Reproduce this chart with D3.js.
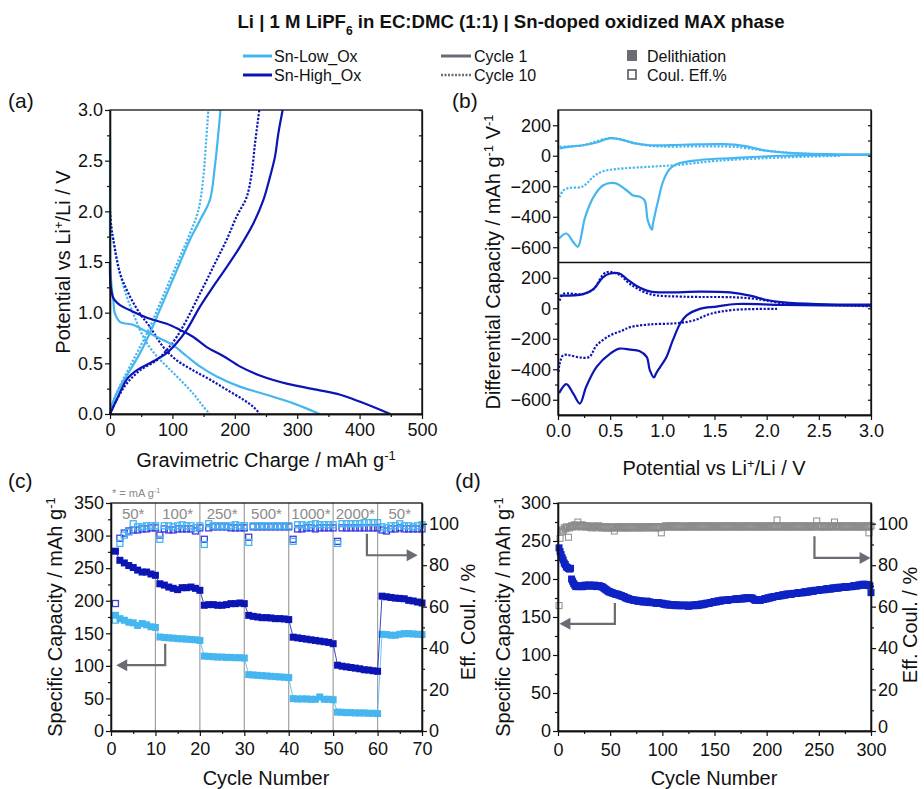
<!DOCTYPE html>
<html><head><meta charset="utf-8">
<script src="https://cdn.jsdelivr.net/npm/d3@7"></script>
<style>body{margin:0;background:#fff}svg{display:block}text{font-family:"Liberation Sans",Arial,Helvetica,sans-serif}</style>
</head><body>
<script>
// ---------------- DATA ----------------
// (a) voltage profiles: [gravimetric charge mAh/g, potential V]
const aLowC1Dis = [[0,2.72],[0,2.2],[0,1.7],[0.5,1.45],[2,1.3],[5.3,1.12],[8,0.99],[16,0.91],[37,0.88],[53,0.83],[75,0.76],[101,0.68],[123,0.57],[144,0.47],[171,0.37],[208,0.27],[251,0.19],[294,0.105],[336,0]];
const aLowC1Chg = [[0,0],[5,0.12],[16,0.27],[32,0.43],[48,0.6],[64,0.8],[80,1.03],[96,1.26],[112,1.49],[128,1.72],[144,1.91],[160,2.11],[168,2.44],[173.6,2.77],[177,3.0]];
const aLowC10Dis = [[0,2.0],[2,1.85],[5.3,1.72],[16,1.39],[26.7,1.16],[37.4,0.99],[48,0.83],[59,0.7],[75,0.57],[91,0.47],[112,0.34],[133.5,0.2],[150,0.07],[160,0]];
const aLowC10Chg = [[0,0],[5,0.12],[16,0.28],[32,0.47],[48,0.66],[64,0.86],[80,1.09],[96,1.32],[112,1.55],[128,1.78],[141.6,2.01],[149.6,2.34],[153.8,2.67],[157.6,3.0]];
const aHighC1Dis = [[0,1.5],[0.5,1.3],[2.7,1.2],[5,1.15],[8,1.12],[16,1.075],[37,1.01],[64,0.94],[91,0.89],[112,0.83],[133.5,0.76],[155,0.66],[182,0.57],[208,0.47],[240,0.38],[283,0.30],[331,0.24],[369,0.19],[401,0.12],[449,0]];
const aHighC1Chg = [[0,0],[10.7,0.14],[26.7,0.34],[42.7,0.43],[69.4,0.52],[90.8,0.6],[106.8,0.7],[122.9,0.83],[144.2,1.06],[165.6,1.26],[187,1.45],[208.3,1.65],[229.7,1.88],[245.7,2.11],[256.4,2.34],[264.4,2.54],[269.8,2.77],[276.7,3.0]];
const aHighC10Dis = [[0,2.0],[2,1.85],[5.3,1.72],[16,1.39],[32,1.16],[48,0.99],[64,0.86],[85.5,0.66],[107,0.53],[133.5,0.43],[160,0.34],[187,0.24],[214,0.14],[230,0.07],[240,0]];
const aHighC10Chg = [[0,0],[10.7,0.14],[26.7,0.30],[48,0.43],[74.8,0.53],[90.8,0.63],[106.8,0.76],[122.9,0.93],[138.9,1.125],[154.9,1.32],[170.9,1.52],[187,1.72],[203,1.95],[219,2.14],[227,2.375],[232.4,2.67],[239.3,3.0]];

// (b) differential capacity: [potential V, dQ/dV]
const bLowC1Pos = [[0.016,48],[0.1,58],[0.24,69],[0.37,87],[0.5,115],[0.59,109],[0.72,83],[0.88,69],[1.2,72],[1.585,76],[1.78,65],[2.0,33],[2.32,15],[3.0,7]];
const bLowC1Neg = [[3.0,7],[2.16,0],[1.68,-15],[1.36,-28],[1.14,-54],[1.07,-87],[1.01,-163],[0.96,-293],[0.91,-445],[0.9,-484],[0.86,-423],[0.83,-293],[0.78,-267],[0.72,-261],[0.66,-228],[0.545,-180],[0.43,-195],[0.34,-271],[0.26,-402],[0.19,-597],[0.145,-565],[0.08,-510],[0.01,-543]];
const bLowC10Pos = [[0.016,59],[0.1,62],[0.24,69],[0.5,115],[0.72,87],[0.88,65],[1.36,61],[1.68,59],[2.0,33],[2.32,15],[2.7,4]];
const bLowC10Neg = [[2.7,0],[2.16,-11],[1.52,-33],[1.14,-61],[0.88,-72],[0.56,-87],[0.43,-102],[0.34,-137],[0.27,-185],[0.22,-206],[0.11,-211],[0.05,-228],[0.016,-271]];
const bHighC1Pos = [[0.016,83],[0.24,93],[0.34,126],[0.43,202],[0.5,228],[0.59,228],[0.66,191],[0.75,148],[0.88,111],[1.04,104],[1.36,109],[1.65,104],[1.84,83],[2.0,54],[2.16,39],[2.48,28],[3.0,24]];
const bHighC1Neg = [[3.0,17],[2.16,22],[1.71,28],[1.52,11],[1.36,-4],[1.23,-48],[1.17,-102],[1.1,-211],[1.04,-319],[0.98,-384],[0.94,-428],[0.92,-454],[0.88,-406],[0.85,-319],[0.78,-280],[0.69,-271],[0.59,-265],[0.5,-297],[0.37,-384],[0.27,-515],[0.21,-625],[0.145,-558],[0.08,-497],[0.01,-558]];
const bHighC10Pos = [[0.016,50],[0.05,93],[0.24,93],[0.34,126],[0.46,235],[0.59,219],[0.69,159],[0.88,93],[1.2,76],[1.68,72],[1.9,61],[2.16,33],[2.48,24],[3.0,13]];
const bHighC10Neg = [[2.1,-4],[1.68,-11],[1.46,-37],[1.3,-80],[1.14,-98],[0.88,-106],[0.69,-124],[0.62,-145],[0.5,-178],[0.37,-243],[0.3,-319],[0.21,-323],[0.11,-308],[0.05,-308],[0.016,-363],[0.004,-428]];

// (c) rate capability, cycles 1..70
const cRateLabels = ["50*","100*","250*","500*","1000*","2000*","50*"];
const cLowCap = [177.6,172.5,170,167,166,162,165,163,160,159,
 144.3,143.5,143,142.5,141.8,141.5,141,140.5,140,139,
 115,114.5,114,113.5,113.5,113,113,112.5,112.5,112,
 86.5,86,85.5,85,84.5,84,83.5,83,82.5,82,
 49.7,49.2,49.2,49.2,48.7,48.7,52.2,48.7,48.7,48,
 29,28.7,28.2,28.2,27.7,27.7,27.7,27.2,27.2,26.7,
 148.5,148,147,147,148.5,149.4,149.4,149,148.5,148];
const cHighCap = [276,262,258,254,251,247,244,244,241,239,
 226,224,221,219,217,220,220,221,219,216,
 193,194,194,193,193,194,195.5,195.5,196.5,195.5,
 177.5,176,175,174,174,173.5,172.5,172.5,172,171,
 144,143,142,141,140,139,138,137,136,134,
 101,99.5,98.5,97.5,96.5,95.5,94,93.5,92.5,91.6,
 207,206,205,204,203.5,203,200.6,199.6,198,196.5];
const cLowCE = [53.5,90.5,94.5,96,100,98.5,98.5,99,99,99,
 92.5,99,99,98.5,99,99.5,99,99,98,99,
 90,100,99,99,99,99,99,99.5,99,99,
 91,99,99,99,99,99,99,99,99,99,
 91.5,99.5,99.5,99,99.5,100,99.5,99.5,99.5,99.5,
 90.5,100,100,100,100,100,100.5,100.5,100.5,100.5,
 98.5,98,99,99,100,99,99,98.5,99,99.5];
const cHighCE = [61.5,93,95.5,96.5,97,97,97.5,97.5,98,98,
 94.5,97.5,97,97,97.5,97.5,97.5,97.5,96.5,98,
 92.5,98,98.5,98.5,98.5,98.5,98,98,98,98,
 93.5,98.5,98.5,98.5,98.5,98.5,98.5,98.5,98.5,98.5,
 92.5,97.5,97.5,98,98,97.5,98,98,98,98,
 91.5,98,98,98,98,98,98,98,98,98,
 97,96.5,97.5,97.5,98,97.5,97.5,97.5,97.5,97.5];

// (d) long-term cycling, cycles 1..300 (Sn-High_Ox)
const dCap = [241,236,232,228,225,221,219,216,215,214,
 213,214,200,197,194,192,190,191,190,191,
 190,191,190,190,191,192,191,191,192,191,
 192,191,191,191,192,191,190,191,191,191,
 190,190,189,188,187,186,185,184,183,183,
 182,182,181,181,180,180,180,179,179,178,
 178,177,177,176,175,175,174,174,173,173,
 173,172,172,172,172,171,171,171,171,171,
 170,170,170,170,171,170,169,170,169,169,
 169,169,169,168,168,169,168,168,168,168,
 167,167,167,166,167,166,166,166,166,166,
 166,165,166,165,165,166,165,165,165,165,
 165,166,165,165,164,165,165,165,166,165,
 165,166,166,165,166,166,167,166,167,167,
 167,168,168,168,168,169,169,169,170,170,
 170,170,171,171,171,171,172,172,172,172,
 172,172,172,173,173,173,173,173,173,174,
 173,174,174,174,174,174,174,175,174,175,
 175,175,175,175,175,175,174,173,172,172,
 172,172,172,172,173,173,173,174,174,174,
 175,175,175,176,176,176,177,177,177,177,
 178,178,178,178,179,179,179,179,180,180,
 180,180,180,180,181,181,181,181,181,182,
 182,182,182,182,182,183,183,183,183,183,
 184,184,184,184,184,185,185,185,185,185,
 186,186,186,186,186,186,187,187,187,187,
 187,187,188,188,188,188,188,189,188,189,
 189,189,189,189,190,189,190,190,190,190,
 190,190,191,191,191,191,191,192,192,192,
 192,193,193,192,193,192,192,192,191,182];
const dCE = [60.5,93,96,97,96.5,98,97.5,98.5,98,93.5,
 98,98.5,99,98.5,99,99.5,99,98.5,100.8,99,
 99,98.5,99.5,99,98.5,99,98.5,99,98.5,98.5,
 98.5,98,98.5,99,98.5,98.5,98,98.5,99,98.5,
 98.5,98,98.5,98,98.5,98,98.5,98,98.5,98,
 98,98.5,98,96.5,98,98.5,98,98.5,98,98.5,
 98.5,98,98.5,98,98,98.5,98,98.5,98,98.5,
 98,98.5,98.5,98,98.5,98,98.5,98,98.5,98,
 98.5,98.5,98,98.5,98.5,98,98.5,98.5,98,98.5,
 98.5,98,98.5,98,98.5,98.5,98,98.5,95.6,98.5,
 98.5,98.5,99,98.5,98.5,99,98.5,98.5,99,98.5,
 98.5,99,98.5,98.5,99,98.5,98.5,99,98.5,98.5,
 98.5,99,98.5,98.5,98.5,99,98.5,99,98.5,98.5,
 99,98.5,98.5,99,98.5,98.5,99,98.5,98.5,99,
 98.5,98.5,99,98.5,98.5,99,98.5,98.5,99,98.5,
 98.5,99,98.5,98.5,99,98.5,98.5,99,98.5,98.5,
 99,98.5,98.5,99,98.5,98.5,99,98.5,98.5,99,
 98.5,98.5,99,98.5,98.5,99,98.5,98.5,99,98.5,
 98.5,99,98.5,98.5,99,98.5,98.5,99,98.5,98.5,
 99,98.5,98.5,99,98.5,98.5,99,98.5,98.5,99,
 98.5,98.5,99,98.5,98.5,99,98.5,98.5,99,101.8,
 98.5,98.5,99,98.5,98.5,99,98.5,98.5,99,98.5,
 98.5,99,98.5,98.5,99,98.5,98.5,99,98.5,98.5,
 99,98.5,98.5,99,98.5,98.5,99,98.5,98.5,99,
 98.5,98.5,99,98.5,98.5,99,98.5,101.3,99,98.5,
 98.5,99,98.5,98.5,99,98.5,98.5,99,98.5,98.5,
 99,98.5,98.5,99,100.8,98.5,99,98.5,98.5,99,
 98.5,98.5,99,98.5,98.5,99,98.5,98.5,99,98.5,
 98.5,99,98.5,98.5,99,98.5,98.5,99,98.5,98.5,
 99,98.5,98.5,99,98.5,98.5,99,95.6,98.5,99];

// ---------------- STYLE ----------------
const LIGHT = "#45b6f0", DARK = "#0b14b4", CEDARK = "#3d3de0", GREY = "#6b6b73", CEGREY = "#8c8c8c", DMARK = "#0f22c4";
const TICKF = 18;

const svg = d3.select("body").append("svg").attr("width",924).attr("height",789);

function txt(x,y,s,opts={}){
  const t = svg.append("text").attr("x",x).attr("y",y).attr("font-size",opts.size||20)
    .attr("fill",opts.fill||"#111").attr("text-anchor",opts.anchor||"middle");
  if(s) t.text(s);
  if(opts.bold) t.attr("font-weight","bold");
  if(opts.rot) t.attr("transform",`rotate(${opts.rot},${x},${y})`);
  return t;
}
function addParts(t, parts){
  parts.forEach(p=>{
    const ts = t.append("tspan").text(p[0]);
    if(p[1]==='sup'){ ts.attr("font-size","65%").attr("baseline-shift","super"); }
    if(p[1]==='sub'){ ts.attr("font-size","65%").attr("baseline-shift","sub"); }
  });
  return t;
}

function axisGroup(axis, tx, ty){
  const g = svg.append("g").attr("transform",`translate(${tx},${ty})`).call(axis);
  g.selectAll("path.domain").attr("stroke","#111").attr("stroke-width",1.3);
  g.selectAll("line").attr("stroke","#111").attr("stroke-width",1.2);
  g.selectAll("text").attr("font-size",TICKF).attr("fill","#111").attr("font-family",'"Liberation Sans",Arial,sans-serif');
  return g;
}
function frame(x0,x1,y0,y1){
  svg.append("rect").attr("x",x0).attr("y",y0).attr("width",x1-x0).attr("height",y1-y0)
    .attr("fill","none").attr("stroke","#111").attr("stroke-width",1.3);
}
function arrow(pts, head){
  svg.append("path").attr("d",d3.line()(pts)).attr("fill","none").attr("stroke",GREY).attr("stroke-width",2.2);
  const a = pts[pts.length-1], b = pts[pts.length-2];
  const dx = a[0]-b[0], dy=a[1]-b[1], L=Math.hypot(dx,dy), ux=dx/L, uy=dy/L;
  const tip=[a[0]+ux*head, a[1]+uy*head];
  const bx=a[0]-ux*2, by=a[1]-uy*2;
  svg.append("path").attr("d",d3.line()([tip,[bx-uy*6,by+ux*6],[bx+uy*6,by-ux*6]])+"Z").attr("fill",GREY);
}

// ---------------- TITLE & LEGEND ----------------
addParts(txt(511,28,"",{size:18.6,bold:true}),[["Li | 1 M LiPF"],["6","sub"],[" in EC:DMC (1:1) | Sn-doped oxidized MAX phase"]]);
svg.append("line").attr("x1",243).attr("x2",272).attr("y1",56).attr("y2",56).attr("stroke",LIGHT).attr("stroke-width",3);
svg.append("line").attr("x1",243).attr("x2",272).attr("y1",75).attr("y2",75).attr("stroke",DARK).attr("stroke-width",3);
txt(274,62,"Sn-Low_Ox",{size:16,anchor:"start"});
txt(274,81,"Sn-High_Ox",{size:16,anchor:"start"});
svg.append("line").attr("x1",441).attr("x2",471).attr("y1",56).attr("y2",56).attr("stroke",GREY).attr("stroke-width",3);
svg.append("line").attr("x1",441).attr("x2",471).attr("y1",75).attr("y2",75).attr("stroke",GREY).attr("stroke-width",2.5).attr("stroke-dasharray","2,1.5");
txt(474,62,"Cycle 1",{size:16,anchor:"start"});
txt(474,81,"Cycle 10",{size:16,anchor:"start"});
svg.append("rect").attr("x",627).attr("y",50).attr("width",10).attr("height",11).attr("fill",GREY);
svg.append("rect").attr("x",628).attr("y",70).attr("width",8).attr("height",9).attr("fill","none").attr("stroke",GREY).attr("stroke-width",1.8);
txt(647,62,"Delithiation",{size:16,anchor:"start"});
txt(647,81,"Coul. Eff.%",{size:16,anchor:"start"});

// panel labels
txt(8,108,"(a)",{size:21,anchor:"start"});
txt(452,108,"(b)",{size:21,anchor:"start"});
txt(8,488,"(c)",{size:21,anchor:"start"});
txt(455,488,"(d)",{size:21,anchor:"start"});

// ---------------- PANEL (a) ----------------
{
  const x = d3.scaleLinear([0,500],[110,422]);
  const y = d3.scaleLinear([0,3],[414,110]);
  const line = d3.line().x(d=>x(d[0])).y(d=>y(d[1])).curve(d3.curveCatmullRom.alpha(0.5));
  const series = [
    [aLowC10Dis,LIGHT,true],[aLowC10Chg,LIGHT,true],[aHighC10Dis,DARK,true],[aHighC10Chg,DARK,true],
    [aLowC1Dis,LIGHT,false],[aLowC1Chg,LIGHT,false],[aHighC1Dis,DARK,false],[aHighC1Chg,DARK,false]];
  svg.append("g").selectAll("path").data(series).join("path")
    .attr("d",d=>line(d[0])).attr("fill","none").attr("stroke",d=>d[1]).attr("stroke-width",2.2)
    .attr("stroke-dasharray",d=>d[2]?"2.2,1.6":null);
  frame(110,422,110,414);
  axisGroup(d3.axisLeft(y).tickValues(d3.range(0,3.01,0.5)).tickFormat(d3.format(".1f")).tickSize(5).tickSizeOuter(0).tickPadding(2),110,0);
  axisGroup(d3.axisLeft(y).tickValues(d3.range(0.25,3,0.5)).tickFormat("").tickSize(3).tickSizeOuter(0),110,0);
  axisGroup(d3.axisBottom(x).tickValues(d3.range(0,501,100)).tickSize(5).tickSizeOuter(0).tickPadding(4),0,414);
  axisGroup(d3.axisBottom(x).tickValues(d3.range(50,500,100)).tickFormat("").tickSize(3).tickSizeOuter(0),0,414);
  axisGroup(d3.axisLeft(y).tickValues(d3.range(0,3.01,0.25)).tickFormat("").tickSize(3).tickSizeOuter(0),422,0);
  addParts(txt(70,262,"",{rot:-90}),[["Potential vs Li"],["+","sup"],["/Li / V"]]);
  addParts(txt(266,467,""),[["Gravimetric Charge / mAh g"],["-1","sup"]]);
}

// ---------------- PANEL (b) ----------------
{
  const x = d3.scaleLinear([0,3],[558,871]);
  const yU = d3.scaleLinear([-700,300],[262.5,110]);
  const yL = d3.scaleLinear([-700,300],[415,262.5]);
  const mk = ys => d3.line().x(d=>x(d[0])).y(d=>ys(d[1])).curve(d3.curveCatmullRom.alpha(0.5));
  const lu = mk(yU), ll = mk(yL);
  const series = [
    [bLowC10Pos,lu,LIGHT,true],[bLowC10Neg,lu,LIGHT,true],[bLowC1Pos,lu,LIGHT,false],[bLowC1Neg,lu,LIGHT,false],
    [bHighC10Pos,ll,DARK,true],[bHighC10Neg,ll,DARK,true],[bHighC1Pos,ll,DARK,false],[bHighC1Neg,ll,DARK,false]];
  svg.append("g").selectAll("path").data(series).join("path")
    .attr("d",d=>d[1](d[0])).attr("fill","none").attr("stroke",d=>d[2]).attr("stroke-width",2.2)
    .attr("stroke-dasharray",d=>d[3]?"2.2,1.6":null);
  frame(558,871,110,415);
  svg.append("line").attr("x1",558).attr("x2",871).attr("y1",262.5).attr("y2",262.5).attr("stroke","#111").attr("stroke-width",1.3);
  [yU,yL].forEach(ys=>{
    axisGroup(d3.axisLeft(ys).tickValues([-600,-400,-200,0,200]).tickSize(5).tickSizeOuter(0).tickPadding(2),558,0);
    axisGroup(d3.axisLeft(ys).tickValues([-500,-300,-100,100]).tickFormat("").tickSize(3).tickSizeOuter(0),558,0);
    axisGroup(d3.axisLeft(ys).tickValues(d3.range(-600,201,100)).tickFormat("").tickSize(3).tickSizeOuter(0),871,0);
  });
  axisGroup(d3.axisBottom(x).tickValues(d3.range(0,3.01,0.5)).tickFormat(d3.format(".1f")).tickSize(5).tickSizeOuter(0).tickPadding(4),0,415);
  axisGroup(d3.axisBottom(x).tickValues(d3.range(0.25,3,0.5)).tickFormat("").tickSize(3).tickSizeOuter(0),0,415);
  addParts(txt(500,262,"",{rot:-90}),[["Differential Capacity / mAh g"],["-1","sup"],[" V"],["-1","sup"]]);
  addParts(txt(714,475,""),[["Potential vs Li"],["+","sup"],["/Li / V"]]);
}

// ---------------- PANEL (c) ----------------
{
  const cyc = d3.range(1,71);
  const x = d3.scaleLinear([0,70],[111,422]);
  const yL = d3.scaleLinear([0,350],[731,503]);
  const yR = d3.scaleLinear([0,110],[731,503]);
  svg.append("g").selectAll("line").data(d3.range(10,61,10)).join("line")
    .attr("x1",d=>x(d)).attr("x2",d=>x(d)).attr("y1",503).attr("y2",731).attr("stroke","#a0a0a0").attr("stroke-width",1.2);
  svg.append("g").selectAll("text").data(cRateLabels).join("text")
    .attr("x",(d,i)=>x(i*10+5)).attr("y",yL(326)).attr("text-anchor","middle").attr("font-size",15).attr("fill","#8a8a8a").text(d=>d);
  addParts(txt(112,497,"",{size:11,anchor:"start",fill:"#8a8a8a"}),[["* = mA g"],["-1","sup"]]);
  const ln = ys => d3.line().x((d,i)=>x(cyc[i])).y(d=>ys(d));
  [[cLowCap,LIGHT],[cHighCap,DARK]].forEach(([arr,col])=>{
    svg.append("path").attr("d",ln(yL)(arr)).attr("fill","none").attr("stroke",col).attr("stroke-width",0.8);
    svg.append("g").selectAll("rect").data(arr).join("rect")
      .attr("x",(d,i)=>x(cyc[i])-3.5).attr("y",d=>yL(d)-3.5).attr("width",7).attr("height",7).attr("fill",col);
  });
  [[cHighCE,CEDARK],[cLowCE,LIGHT]].forEach(([arr,col])=>{
    svg.append("g").selectAll("rect").data(arr).join("rect")
      .attr("x",(d,i)=>x(cyc[i])-3).attr("y",d=>yR(d)-3).attr("width",6).attr("height",6)
      .attr("fill","none").attr("stroke",col).attr("stroke-width",1.3);
  });
  frame(111,422,503,731);
  axisGroup(d3.axisLeft(yL).tickValues(d3.range(0,351,50)).tickSize(5).tickSizeOuter(0).tickPadding(2),111,0);
  axisGroup(d3.axisLeft(yL).tickValues(d3.range(25,350,50)).tickFormat("").tickSize(3).tickSizeOuter(0),111,0);
  axisGroup(d3.axisRight(yR).tickValues(d3.range(0,101,20)).tickSize(5).tickSizeOuter(0).tickPadding(2),422,0);
  axisGroup(d3.axisRight(yR).tickValues(d3.range(10,110,20)).tickFormat("").tickSize(3).tickSizeOuter(0),422,0);
  axisGroup(d3.axisBottom(x).tickValues(d3.range(0,71,10)).tickSize(5).tickSizeOuter(0).tickPadding(6),0,731);
  axisGroup(d3.axisBottom(x).tickValues(d3.range(5,70,10)).tickFormat("").tickSize(3).tickSizeOuter(0),0,731);
  arrow([[x(12.2),yL(134)],[x(12.2),yL(101)],[x(3.2),yL(101)]],9);
  arrow([[x(57.6),yR(95.2)],[x(57.6),yR(84.8)],[x(67),yR(84.8)]],9);
  addParts(txt(62,617,"",{rot:-90}),[["Specific Capacity / mAh g"],["-1","sup"]]);
  txt(475,622,"Eff. Coul. / %",{rot:-90});
  txt(266,785,"Cycle Number");
}

// ---------------- PANEL (d) ----------------
{
  const cyc = d3.range(1,301);
  const x = d3.scaleLinear([0,300],[558,871]);
  const yL = d3.scaleLinear([0,300],[731,503]);
  const yR = d3.scaleLinear([0,110],[731,503]);
  svg.append("g").selectAll("rect").data(dCE).join("rect")
    .attr("x",(d,i)=>x(cyc[i])-3).attr("y",d=>yR(d)-3).attr("width",6).attr("height",6)
    .attr("fill","none").attr("stroke",CEGREY).attr("stroke-width",1);
  svg.append("g").selectAll("rect").data(dCap).join("rect")
    .attr("x",(d,i)=>x(cyc[i])-3.5).attr("y",d=>yL(d)-3.5).attr("width",7).attr("height",7).attr("fill",DMARK);
  frame(558,871,503,731);
  axisGroup(d3.axisLeft(yL).tickValues(d3.range(0,301,50)).tickSize(5).tickSizeOuter(0).tickPadding(2),558,0);
  axisGroup(d3.axisLeft(yL).tickValues(d3.range(25,300,50)).tickFormat("").tickSize(3).tickSizeOuter(0),558,0);
  const rAx = axisGroup(d3.axisRight(yR).tickValues(d3.range(0,101,20)).tickSize(5).tickSizeOuter(0).tickPadding(2),871,0);
  rAx.selectAll(".tick text").filter(d=>d===0).attr("dy","0.1em");
  axisGroup(d3.axisRight(yR).tickValues(d3.range(10,110,20)).tickFormat("").tickSize(3).tickSizeOuter(0),871,0);
  axisGroup(d3.axisBottom(x).tickValues(d3.range(0,301,50)).tickSize(5).tickSizeOuter(0).tickPadding(7),0,731);
  axisGroup(d3.axisBottom(x).tickValues(d3.range(25,300,50)).tickFormat("").tickSize(3).tickSizeOuter(0),0,731);
  arrow([[x(54.5),yL(168.5)],[x(54.5),yL(141)],[x(10),yL(141)]],9);
  arrow([[x(245.8),yR(94)],[x(245.8),yR(83.5)],[x(291),yR(83.5)]],9);
  addParts(txt(510,617,"",{rot:-90}),[["Specific Capacity / mAh g"],["-1","sup"]]);
  txt(917,625,"Eff. Coul. / %",{rot:-90});
  txt(714,785,"Cycle Number");
}
</script>
</body></html>
